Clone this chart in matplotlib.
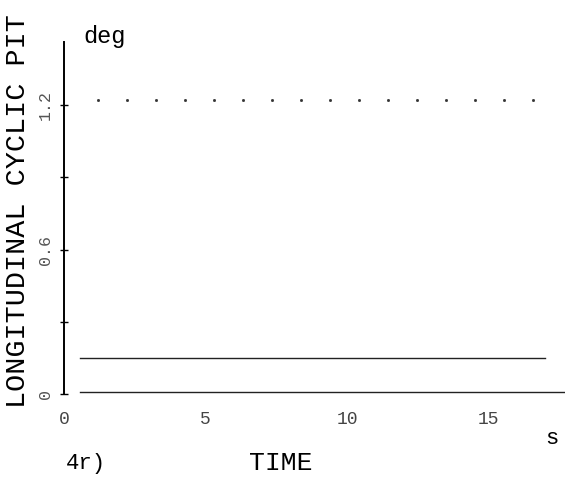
import matplotlib
matplotlib.use("Agg")
import matplotlib.pyplot as plt

# ---- data ----
upper_time = [0.55, 17.0]
upper_pitch = [0.15, 0.15]
base_time = [0.55, 17.7]
base_pitch = [0.01, 0.01]
dot_time = [1.20, 2.23, 3.25, 4.28, 5.30, 6.33, 7.35, 8.37, 9.40, 10.42,
            11.45, 12.47, 13.50, 14.52, 15.55, 16.57]
dot_pitch = [1.22] * len(dot_time)

x_ticks = [0, 5, 10, 15]
x_tick_labels = ["0", "5", "10", "15"]
y_ticks = [0, 0.3, 0.6, 0.9, 1.2]
y_tick_labels = ["0", "", "0.6", "", "1.2"]

FONT = "Liberation Mono"

fig = plt.figure(figsize=(5.88, 4.84), dpi=100)
ax = fig.add_axes([64 / 588, 1 - 394 / 484, (565 - 64) / 588, (394 - 42) / 484])

ax.plot(upper_time, upper_pitch, color="#222222", lw=1.0)
ax.plot(base_time, base_pitch, color="#222222", lw=1.0)
ax.plot(dot_time, dot_pitch, linestyle="none", marker="s", markersize=1.0,
        color="#333333")

ax.set_xlim(0, 17.7)
ax.set_ylim(0, 1.462)
ax.spines["top"].set_visible(False)
ax.spines["right"].set_visible(False)
ax.spines["bottom"].set_visible(False)
ax.spines["left"].set_linewidth(1.4)

ax.set_xticks(x_ticks)
ax.set_xticklabels(x_tick_labels, family=FONT, fontsize=13, color="#444444")
ax.tick_params(axis="x", length=0, pad=12)
ax.set_yticks(y_ticks)
ax.set_yticklabels(y_tick_labels, family=FONT, fontsize=12, color="#555555",
                   rotation=90, va="center")
ax.tick_params(axis="y", direction="inout", length=6, width=1, pad=5)

fig.text(18 / 588, 1 - 408 / 484, "LONGITUDINAL CYCLIC PIT", rotation=90,
         family=FONT, fontsize=20.5, ha="center", va="bottom")
fig.text(83 / 588, 1 - 36 / 484, "deg", family=FONT, fontsize=17, ha="left", va="center")
fig.text(281 / 588, 1 - 463 / 484, "TIME", family=FONT, fontsize=19, ha="center", va="center")
fig.text(552 / 588, 1 - 438 / 484, "s", family=FONT, fontsize=16, ha="center", va="center")
fig.text(86 / 588, 1 - 463 / 484, "4r)", family=FONT, fontsize=16, ha="center", va="center")

fig.savefig("out.png", dpi=100, facecolor="white")
